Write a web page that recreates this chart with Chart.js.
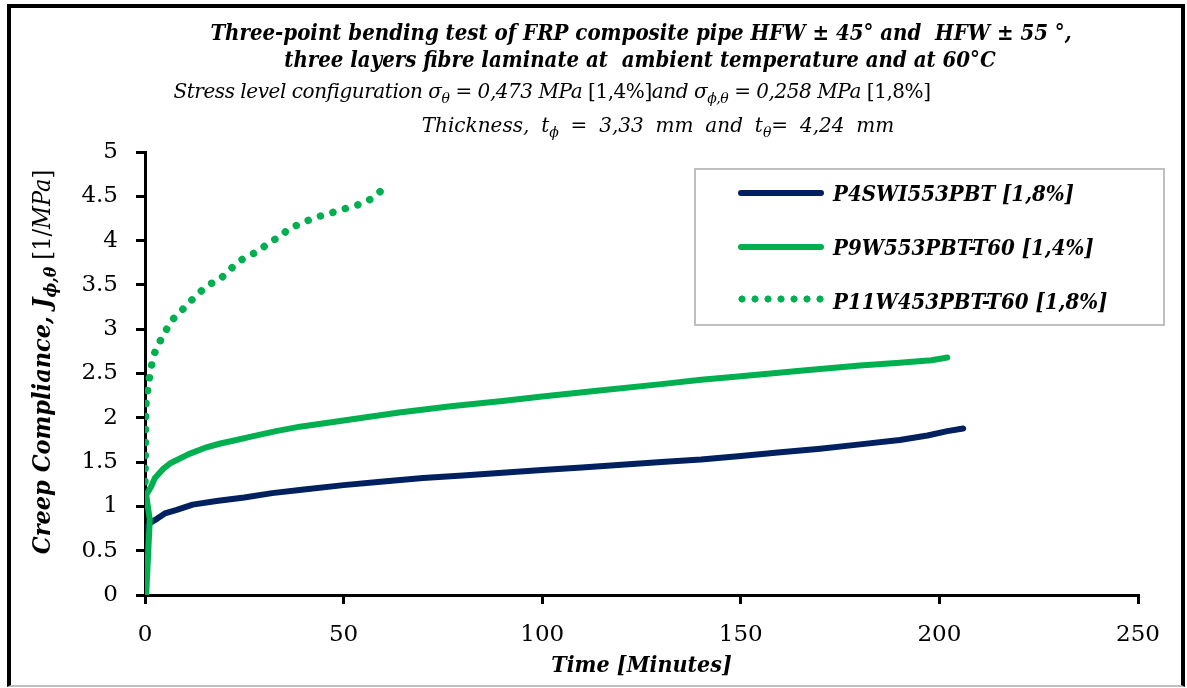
<!DOCTYPE html>
<html>
<head>
<meta charset="utf-8">
<script src="https://cdn.jsdelivr.net/npm/chart.js@4/dist/chart.umd.min.js"></script>
<style>
body { margin: 0; background: #fff; }
#wrap { position: relative; width: 1187px; height: 688px; overflow: hidden; }
#frame { position: absolute; left: 7px; top: 4px; width: 1170px; height: 677px;
  border: 4px solid #000; border-bottom: 2px solid #bfbfbf; }
canvas { position: absolute; left: 0; top: 0; }
.t { position: absolute; white-space: nowrap; text-align: center; color: #000; }
.h1 { font-family: "DejaVu Serif Condensed", "DejaVu Serif"; font-stretch: condensed;
  font-weight: bold; font-style: italic; font-size: 22px; }
.h2 { font-family: "DejaVu Serif"; font-style: italic; font-size: 20px; }
.h2 .up { font-style: normal; }
sub { font-size: 70%; }
#ytitle { left: -168px; top: 346px; width: 420px; height: 32px; line-height: 32px;
  transform: rotate(-90deg); font-family: "DejaVu Serif Condensed", "DejaVu Serif";
  font-size: 25px; }
#legend { position: absolute; left: 694px; top: 168px; width: 467px; height: 154px;
  border: 2px solid #bfbfbf; }
.item { position: absolute; left: 42px; height: 30px; }
.sample { position: absolute; left: 0; top: 12px; width: 86px; height: 0; }
.label { position: absolute; left: 95px; top: 0; line-height: 30px; white-space: nowrap;
  font-family: "DejaVu Serif Condensed", "DejaVu Serif"; font-stretch: condensed;
  font-weight: bold; font-style: italic; font-size: 22px; }
</style>
</head>
<body>
<div id="wrap">
  <div id="frame"></div>
  <canvas id="chart" width="1187" height="688"></canvas>

  <div class="t h1" style="left:141px;width:1000px;top:19px;">Three-point bending test of FRP composite pipe HFW ± 45° and&nbsp; HFW ± 55 °,</div>
  <div class="t h1" style="left:140px;width:1000px;top:46px;">three layers fibre laminate at&nbsp; ambient temperature and at 60°C</div>
  <div class="t h2" style="left:52px;width:1000px;top:79px;letter-spacing:-0.45px;">Stress level configuration σ<sub>θ</sub> = 0,473 MPa <span class="up">[1,4%]</span>and σ<sub>ϕ,θ</sub> = 0,258 MPa <span class="up">[1,8%]</span></div>
  <div class="t h2" style="left:158px;width:1000px;top:113px;word-spacing:5.5px;">Thickness, t<sub>ϕ</sub> = 3,33 mm and t<sub>θ</sub>= 4,24 mm</div>

  <div class="t" id="ytitle"><b><i>Creep Compliance, J<sub>ϕ,θ</sub></i></b> [1/<i>MPa</i>]</div>

  <div id="legend"></div>
</div>

<script>
// ================= DATA =================
const xTicks = [0, 50, 100, 150, 200, 250];
const yTicks = [0, 0.5, 1, 1.5, 2, 2.5, 3, 3.5, 4, 4.5, 5];

// P4SWI553PBT [1,8%]
const navyT = [0, 0.3, 0.7, 1.5, 3, 5, 8, 12, 18, 25, 32, 40, 50, 60, 70, 80, 90, 100, 110, 120, 130, 140, 150, 160, 170, 180, 190, 197, 202, 206];
const navyJ = [0, 0.45, 0.78, 0.82, 0.86, 0.92, 0.96, 1.02, 1.06, 1.10, 1.15, 1.19, 1.24, 1.28, 1.32, 1.35, 1.38, 1.41, 1.44, 1.47, 1.50, 1.53, 1.57, 1.61, 1.65, 1.70, 1.75, 1.80, 1.85, 1.88];

// P9W553PBT-T60 [1,4%]
const greenT = [0.3, 1.2, 0.3, 1.5, 2.5, 4.5, 6.5, 11, 15, 19, 23, 27, 33, 39, 50, 64, 77, 90, 100, 115, 130, 140, 150, 165, 180, 190, 198, 202];
const greenJ = [0, 0.85, 1.13, 1.22, 1.32, 1.42, 1.49, 1.59, 1.66, 1.71, 1.75, 1.79, 1.85, 1.90, 1.97, 2.06, 2.13, 2.19, 2.24, 2.31, 2.38, 2.43, 2.47, 2.53, 2.59, 2.62, 2.65, 2.68];

// P11W453PBT-T60 [1,8%]
const dotT = [0, 0.1, 0.2, 1.0, 2.1, 3.5, 5.1, 6.5, 8.8, 11.1, 13.4, 15.8, 18.5, 20.9, 23.2, 25.9, 28.8, 31.1, 34, 36.3, 39.3, 42.1, 45.1, 48.2, 51, 54.1, 56.9, 59.4];
const dotJ = [1.28, 1.70, 2.14, 2.43, 2.70, 2.84, 2.97, 3.09, 3.19, 3.30, 3.40, 3.50, 3.55, 3.65, 3.75, 3.83, 3.88, 3.98, 4.04, 4.14, 4.19, 4.25, 4.29, 4.33, 4.37, 4.41, 4.47, 4.56];

const names = ["P4SWI553PBT [1,8%]", "P9W553PBT-T60 [1,4%]", "P11W453PBT-T60 [1,8%]"];

const NAVY = "#002060";
const GREEN = "#00b050";

function pts(xs, ys) {
    return xs.map((x, i) => ({ x: x, y: ys[i] }));
}

const serif = "'DejaVu Serif', serif";
const serifCond = "'DejaVu Serif Condensed', 'DejaVu Serif', serif";

// ================= CHART =================
const chart = new Chart(document.getElementById("chart"), {
    type: "scatter",
    data: {
        datasets: [
            {
                label: names[0],
                data: pts(navyT, navyJ),
                showLine: true,
                borderColor: NAVY,
                borderWidth: 6,
                pointRadius: 0,
                borderJoinStyle: "round",
                borderCapStyle: "round",
                order: 3
            },
            {
                label: names[1],
                data: pts(greenT, greenJ),
                showLine: true,
                borderColor: GREEN,
                borderWidth: 6,
                pointRadius: 0,
                borderJoinStyle: "round",
                borderCapStyle: "round",
                order: 2
            },
            {
                label: names[2],
                data: pts(dotT, dotJ),
                showLine: true,
                borderColor: GREEN,
                borderWidth: 7.5,
                borderDash: [0.01, 13],
                pointRadius: 0,
                borderJoinStyle: "round",
                borderCapStyle: "round",
                order: 1
            }
        ]
    },
    options: {
        responsive: false,
        animation: false,
        layout: { padding: { left: 0, right: 49, top: 152, bottom: 0 } },
        plugins: {
            legend: { display: false },
            tooltip: { enabled: false }
        },
        scales: {
            x: {
                type: "linear",
                min: 0,
                max: 250,
                afterBuildTicks: (axis) => { axis.ticks = xTicks.map(v => ({ value: v })); },
                afterFit: (axis) => { axis.height = 93; },
                grid: { drawOnChartArea: false, tickLength: 9, color: "#000", lineWidth: 3 },
                border: { color: "#000", width: 3 },
                ticks: { color: "#000", padding: 17, maxRotation: 0, font: { family: serif, size: 23 } },
                title: {
                    display: true,
                    text: "Time [Minutes]",
                    color: "#000",
                    padding: { top: 0, bottom: 8 },
                    font: { family: serifCond, size: 23, style: "italic", weight: "bold" }
                }
            },
            y: {
                type: "linear",
                min: 0,
                max: 5,
                afterBuildTicks: (axis) => { axis.ticks = yTicks.map(v => ({ value: v })); },
                afterFit: (axis) => { axis.width = 145; },
                grid: { drawOnChartArea: false, tickLength: 9, color: "#000", lineWidth: 3 },
                border: { color: "#000", width: 3 },
                ticks: { color: "#000", padding: 18, font: { family: serif, size: 23 },
                    callback: (v) => String(v) }
            }
        }
    }
});

// ================= LEGEND (html) =================
const legendBox = document.getElementById("legend");
chart.data.datasets.forEach((ds, i) => {
    const item = document.createElement("div");
    item.className = "item";
    item.style.top = (8 + i * 54) + "px";
    const s = document.createElement("div");
    s.className = "sample";
    if (ds.borderDash) {
        s.style.height = "8px";
        s.style.top = "9px";
        s.style.width = "86px";
        s.style.background = "radial-gradient(circle at 4px 4px, " + ds.borderColor + " 3.3px, transparent 3.8px) 0 0 / 13px 8px repeat-x";
    } else {
        s.style.borderTop = "6px solid " + ds.borderColor;
        s.style.borderRadius = "3px";
    }
    const l = document.createElement("div");
    l.className = "label";
    l.textContent = ds.label;
    item.appendChild(s);
    item.appendChild(l);
    legendBox.appendChild(item);
});
</script>
</body>
</html>
